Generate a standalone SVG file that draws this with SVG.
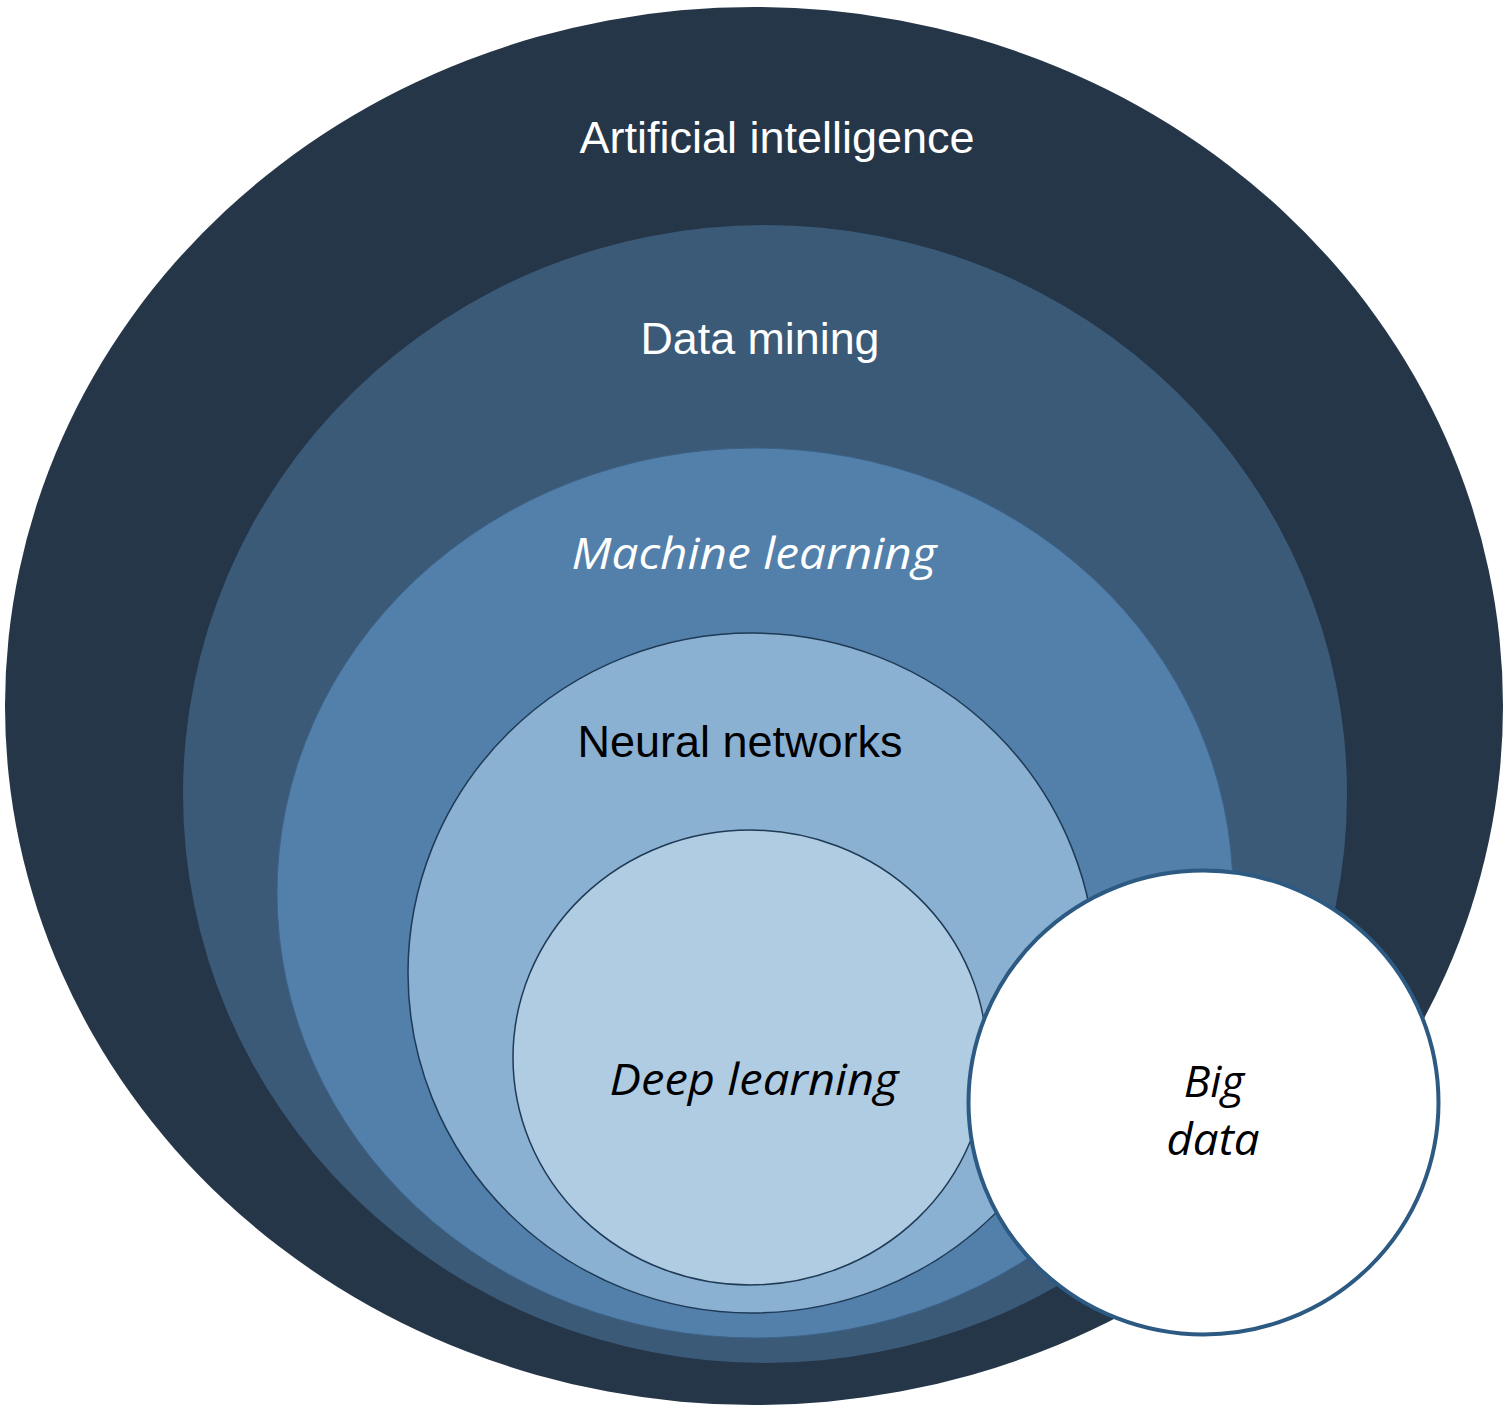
<svg xmlns="http://www.w3.org/2000/svg" width="1508" height="1413" viewBox="0 0 1508 1413">
  <style>
    .sans { font-family: "Liberation Sans", Arial, sans-serif; font-size: 45px; }
    .ital { font-family: "Open Sans", "Noto Sans", sans-serif; font-style: italic; font-size: 44px; }
    .white { fill: #ffffff; }
    .black { fill: #000000; }
  </style>
  <rect x="0" y="0" width="1508" height="1413" fill="#ffffff"/>
  <g id="artificial-intelligence">
    <ellipse cx="754" cy="706" rx="749" ry="699" fill="#253649"/>
    <text class="sans white" x="777" y="153" text-anchor="middle" textLength="395" lengthAdjust="spacingAndGlyphs">Artificial intelligence</text>
  </g>
  <g id="data-mining">
    <ellipse cx="765" cy="794" rx="582" ry="569" fill="#3b5a78"/>
    <text class="sans white" x="760" y="354" text-anchor="middle" textLength="239" lengthAdjust="spacingAndGlyphs">Data mining</text>
  </g>
  <g id="machine-learning">
    <ellipse cx="755" cy="893" rx="478" ry="445" fill="#5280aa" stroke="#3d6288" stroke-width="1"/>
    <text class="ital white" x="754" y="569" text-anchor="middle" textLength="365" lengthAdjust="spacingAndGlyphs">Machine learning</text>
  </g>
  <g id="neural-networks">
    <ellipse cx="752" cy="973" rx="344" ry="340" fill="#8ab0d2" stroke="#1f3a55" stroke-width="1.5"/>
    <text class="sans black" x="740" y="757" text-anchor="middle" textLength="325" lengthAdjust="spacingAndGlyphs">Neural networks</text>
  </g>
  <g id="deep-learning">
    <ellipse cx="750" cy="1057.5" rx="237" ry="227.5" fill="#b0cce3" stroke="#1f3a55" stroke-width="1.5"/>
    <text class="ital black" x="754" y="1095" text-anchor="middle" textLength="289" lengthAdjust="spacingAndGlyphs">Deep learning</text>
  </g>
  <g id="big-data">
    <ellipse cx="1203.5" cy="1102.5" rx="235" ry="232" fill="#ffffff" stroke="#2d5a82" stroke-width="4"/>
    <text class="ital black" x="1214" y="1097" text-anchor="middle">Big</text>
    <text class="ital black" x="1213" y="1155" text-anchor="middle" textLength="93" lengthAdjust="spacingAndGlyphs">data</text>
  </g>
  <g id="connectors"></g>
</svg>
